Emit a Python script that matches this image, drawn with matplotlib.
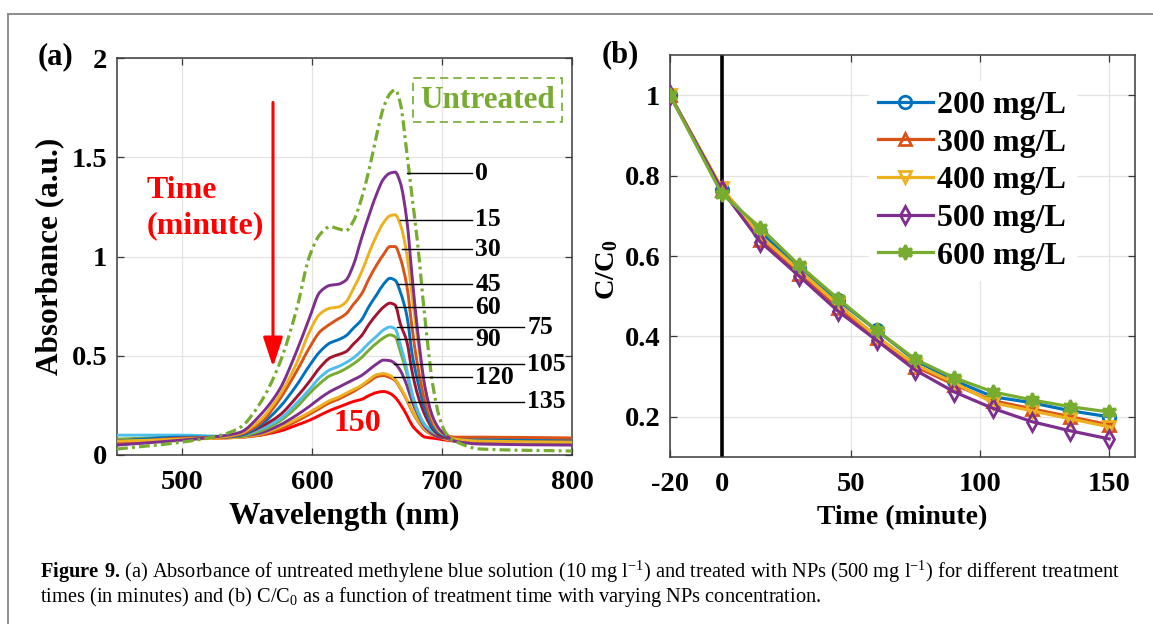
import numpy as np
import matplotlib
matplotlib.use('Agg')
import matplotlib.pyplot as plt
from matplotlib.lines import Line2D
from matplotlib.patches import Rectangle, PathPatch
from matplotlib.path import Path

plt.rcParams['font.family'] = 'Liberation Serif'
plt.rcParams['font.weight'] = 'bold'
plt.rcParams['mathtext.fontset'] = 'custom'
plt.rcParams['mathtext.rm'] = 'Liberation Serif:weight=normal'
plt.rcParams['mathtext.bf'] = 'Liberation Serif:weight=bold'
plt.rcParams['mathtext.default'] = 'rm'
plt.rcParams['axes.unicode_minus'] = False

# ---- (a) absorbance spectra ----
wavelength = [450, 500, 530, 545, 560, 575, 588, 598, 606, 614, 620, 626, 632, 638, 644,
              650, 655, 660, 664, 668, 673, 677, 681, 687, 693, 698, 703, 710, 730, 800]

abs_untreated = [0.03, 0.065, 0.10, 0.14, 0.26, 0.46, 0.73, 1.00, 1.11, 1.15, 1.14, 1.13, 1.18, 1.29, 1.44,
                 1.62, 1.75, 1.82, 1.84, 1.77, 1.52, 1.30, 1.08, 0.68, 0.35, 0.19, 0.11, 0.07, 0.03, 0.02]
abs_0 = [0.05, 0.075, 0.095, 0.115, 0.20, 0.33, 0.52, 0.69, 0.82, 0.855, 0.86, 0.88, 0.96, 1.09, 1.21,
         1.32, 1.39, 1.42, 1.425, 1.37, 1.18, 0.90, 0.64, 0.34, 0.19, 0.13, 0.10, 0.07, 0.055, 0.05]
abs_15 = [0.07, 0.08, 0.09, 0.11, 0.175, 0.30, 0.46, 0.62, 0.71, 0.74, 0.745, 0.77, 0.84, 0.92, 1.02,
          1.11, 1.17, 1.205, 1.21, 1.16, 1.01, 0.80, 0.60, 0.33, 0.18, 0.12, 0.10, 0.08, 0.07, 0.065]
abs_30 = [0.06, 0.085, 0.09, 0.105, 0.16, 0.28, 0.42, 0.54, 0.62, 0.66, 0.685, 0.71, 0.76, 0.81, 0.89,
          0.96, 1.01, 1.05, 1.05, 0.99, 0.85, 0.64, 0.46, 0.27, 0.16, 0.12, 0.10, 0.09, 0.09, 0.085]
abs_45 = [0.07, 0.09, 0.09, 0.10, 0.15, 0.24, 0.35, 0.45, 0.52, 0.565, 0.58, 0.60, 0.64, 0.68, 0.75,
          0.81, 0.86, 0.89, 0.88, 0.82, 0.70, 0.51, 0.38, 0.23, 0.14, 0.11, 0.095, 0.085, 0.08, 0.08]
abs_60 = [0.07, 0.085, 0.09, 0.10, 0.14, 0.20, 0.29, 0.37, 0.44, 0.49, 0.505, 0.52, 0.56, 0.60, 0.66,
          0.71, 0.745, 0.765, 0.755, 0.66, 0.57, 0.42, 0.31, 0.20, 0.13, 0.10, 0.09, 0.08, 0.07, 0.07]
abs_75 = [0.10, 0.10, 0.095, 0.10, 0.13, 0.18, 0.26, 0.33, 0.39, 0.43, 0.445, 0.465, 0.49, 0.525, 0.565,
          0.60, 0.63, 0.645, 0.635, 0.555, 0.43, 0.31, 0.23, 0.15, 0.12, 0.10, 0.09, 0.08, 0.075, 0.075]
abs_90 = [0.08, 0.09, 0.09, 0.095, 0.12, 0.17, 0.24, 0.31, 0.36, 0.40, 0.415, 0.435, 0.46, 0.49, 0.53,
          0.565, 0.59, 0.605, 0.595, 0.52, 0.41, 0.30, 0.22, 0.15, 0.115, 0.10, 0.09, 0.07, 0.06, 0.06]
abs_105 = [0.07, 0.085, 0.09, 0.095, 0.11, 0.15, 0.20, 0.245, 0.285, 0.32, 0.34, 0.36, 0.38, 0.40, 0.43,
           0.46, 0.478, 0.475, 0.46, 0.425, 0.35, 0.27, 0.21, 0.14, 0.105, 0.09, 0.085, 0.07, 0.06, 0.06]
abs_120 = [0.065, 0.08, 0.085, 0.09, 0.105, 0.14, 0.18, 0.215, 0.245, 0.275, 0.29, 0.31, 0.33, 0.35, 0.38,
           0.405, 0.41, 0.40, 0.38, 0.34, 0.28, 0.225, 0.18, 0.13, 0.10, 0.09, 0.08, 0.07, 0.06, 0.055]
abs_135 = [0.075, 0.09, 0.09, 0.09, 0.10, 0.13, 0.17, 0.205, 0.235, 0.265, 0.28, 0.30, 0.32, 0.345, 0.37,
           0.395, 0.40, 0.39, 0.375, 0.335, 0.275, 0.22, 0.175, 0.125, 0.10, 0.09, 0.085, 0.085, 0.085, 0.085]
abs_150 = [0.06, 0.08, 0.085, 0.09, 0.10, 0.12, 0.15, 0.175, 0.20, 0.225, 0.24, 0.255, 0.27, 0.28, 0.30,
           0.315, 0.32, 0.31, 0.29, 0.255, 0.20, 0.15, 0.12, 0.09, 0.085, 0.08, 0.075, 0.07, 0.065, 0.065]

treat_times = [0, 15, 30, 45, 60, 75, 90, 105, 120, 135, 150]
treated = [abs_0, abs_15, abs_30, abs_45, abs_60, abs_75, abs_90, abs_105, abs_120, abs_135, abs_150]

ticks_a_x = [500, 600, 700, 800]
ticks_a_y = [0, 0.5, 1, 1.5, 2]
labels_a_y = ['0', '0.5', '1', '1.5', '2']

# ---- (b) normalised concentration ----
time_b = [-20, 0, 15, 30, 45, 60, 75, 90, 105, 120, 135, 150]
conc_200 = [1.0, 0.765, 0.66, 0.57, 0.49, 0.415, 0.34, 0.29, 0.25, 0.235, 0.215, 0.20]
conc_300 = [1.0, 0.765, 0.64, 0.555, 0.47, 0.395, 0.325, 0.28, 0.24, 0.22, 0.20, 0.18]
conc_400 = [1.0, 0.77, 0.65, 0.565, 0.48, 0.40, 0.33, 0.285, 0.235, 0.215, 0.195, 0.175]
conc_500 = [1.0, 0.765, 0.635, 0.55, 0.463, 0.39, 0.316, 0.262, 0.221, 0.188, 0.165, 0.145]
conc_600 = [1.0, 0.755, 0.67, 0.577, 0.494, 0.415, 0.343, 0.297, 0.262, 0.242, 0.225, 0.212]
conc_names = ['200 mg/L', '300 mg/L', '400 mg/L', '500 mg/L', '600 mg/L']

ticks_b_x = [-20, 0, 50, 100, 150]
labels_b_x = ['-20', '0', '50', '100', '150']
ticks_b_y = [0.2, 0.4, 0.6, 0.8, 1]
labels_b_y = ['0.2', '0.4', '0.6', '0.8', '1']

# matlab-like colour order
c_blue, c_orange, c_yellow = '#0072BD', '#D95319', '#EDB120'
c_purple, c_green, c_lblue, c_maroon = '#7E2F8E', '#77AC30', '#4DBEEE', '#A2142F'
spec_colors = [c_purple, c_yellow, c_orange, c_blue, c_maroon, c_lblue, c_green,
               c_purple, c_yellow, c_orange, '#FF0000']


def smooth_path(x, y):
    """Monotone cubic (pchip) through the points, as bezier segments."""
    x = np.asarray(x, float)
    y = np.asarray(y, float)
    h = np.diff(x)
    d = np.diff(y) / h
    m = np.zeros_like(y)
    for k in range(1, len(x) - 1):
        if d[k - 1] * d[k] > 0:
            w1 = 2 * h[k] + h[k - 1]
            w2 = h[k] + 2 * h[k - 1]
            m[k] = (w1 + w2) / (w1 / d[k - 1] + w2 / d[k])
    m[0], m[-1] = d[0], d[-1]
    verts = [(x[0], y[0])]
    codes = [Path.MOVETO]
    for k in range(len(h)):
        verts += [(x[k] + h[k] / 3, y[k] + m[k] * h[k] / 3),
                  (x[k + 1] - h[k] / 3, y[k + 1] - m[k + 1] * h[k] / 3),
                  (x[k + 1], y[k + 1])]
        codes += [Path.CURVE4] * 3
    return Path(verts, codes)


W, H = 1153, 624
fig = plt.figure(figsize=(W / 100, H / 100), dpi=100)
ax1 = fig.add_axes([117 / W, 1 - 455 / H, 455 / W, 397 / H])
ax2 = fig.add_axes([670 / W, 1 - 457 / H, 465 / W, 402 / H])


def style_axes(ax):
    ax.grid(True, color='#e3e3e3', lw=0.9)
    ax.set_axisbelow(True)
    for s in ax.spines.values():
        s.set_color('#3a3a3a')
        s.set_linewidth(1.1)
    ax.tick_params(direction='in', length=5, width=0.9, color='#3a3a3a',
                   top=True, right=True, labelsize=20.5)
    ax.tick_params(axis='x', pad=11)
    ax.tick_params(axis='y', pad=7)


# panel (a)
for t, vals, col in reversed(list(zip(treat_times, treated, spec_colors))):
    ax1.add_patch(PathPatch(smooth_path(wavelength, vals), facecolor='none', edgecolor=col,
                            lw=2.1, joinstyle='round', zorder=3))
ax1.add_patch(PathPatch(smooth_path(wavelength, abs_untreated), facecolor='none', edgecolor=c_green,
                        lw=2.3, linestyle=(0, (3.4, 1.3, 0.9, 1.3)), zorder=4))

ax1.set_xlim(450, 800)
ax1.set_ylim(0, 2)
ax1.set_xticks(ticks_a_x)
ax1.set_yticks(ticks_a_y)
ax1.set_yticklabels(labels_a_y)
style_axes(ax1)
ax1.set_xlabel('Wavelength (nm)', fontsize=22.5, fontweight='bold')
ax1.set_ylabel('Absorbance (a.u.)', fontsize=22.5, fontweight='bold')
ax1.xaxis.set_label_coords(0.5, -0.156)
ax1.xaxis.label.set_va('center')
ax1.yaxis.set_label_coords(-0.147, 0.5)
ax1.yaxis.label.set_va('center')

# leader lines: (label, start, y, long)
leaders = [('0', 673, 1.419, False), ('15', 668, 1.184, False), ('30', 669, 1.036, False),
           ('45', 666, 0.86, False), ('60', 664, 0.744, False), ('75', 665, 0.643, True),
           ('90', 665, 0.583, False), ('105', 663, 0.458, True), ('120', 663, 0.391, False),
           ('135', 674, 0.269, True)]
for lab, x0, y, long in leaders:
    x1 = 763 if long else 723
    ax1.plot([x0, x1], [y, y], color='black', lw=1.0, zorder=5, clip_on=False)
    ax1.text(x1 + 2.5, y, lab, fontsize=18.5, ha='left', va='center', zorder=6)

ax1.text(635, 0.16, '150', color='#FF0000', fontsize=23, ha='center', va='center')
ax1.text(473, 1.245, 'Time\n(minute)', color='#FF0000', fontsize=23, ha='left', va='center',
         linespacing=1.27)
ax1.annotate('', xy=(570, 0.43), xytext=(570, 1.79),
             arrowprops=dict(arrowstyle='-|>,head_length=0.9,head_width=0.3',
                             color='#FF0000', lw=2.2, mutation_scale=20))
ax1.add_patch(Rectangle((678, 1.678), 114, 0.221, fill=False, edgecolor=c_green,
                        lw=1.2, linestyle=(0, (5, 3)), zorder=5))
ax1.text(735, 1.785, 'Untreated', color=c_green, fontsize=22.5, ha='center', va='center')

# panel (b)
markers = ['o', '^', 'v', 'd', (6, 1, 0)]
series = [conc_200, conc_300, conc_400, conc_500, conc_600]
cols_b = [c_blue, c_orange, c_yellow, c_purple, c_green]
for vals, name, col, mk in zip(series, conc_names, cols_b, markers):
    filled = mk == (6, 1, 0)
    ax2.plot(time_b, vals, color=col, lw=2.3, marker=mk, ms=10.5 if filled else 9,
             mfc=col if filled else 'none', mew=2.0, label=name, zorder=3)
ax2.axvline(0, color='black', lw=2.6, zorder=2)

ax2.set_xlim(-20, 160)
ax2.set_ylim(0.1, 1.1)
ax2.set_xticks(ticks_b_x)
ax2.set_xticklabels(labels_b_x)
ax2.set_yticks(ticks_b_y)
ax2.set_yticklabels(labels_b_y)
style_axes(ax2)
ax2.set_xlabel('Time (minute)', fontsize=20, fontweight='bold')
ax2.set_ylabel(r'$\mathbf{C/C_0}$', fontsize=20.5)
ax2.xaxis.set_label_coords(0.5, -0.152)
ax2.xaxis.label.set_va('center')
ax2.yaxis.set_label_coords(-0.136, 0.465)
ax2.yaxis.label.set_va('center')

leg = ax2.legend(loc='upper left', bbox_to_anchor=(0.393, 0.975), fontsize=23,
                 frameon=True, fancybox=False, edgecolor='white', framealpha=1,
                 handlelength=1.7, handletextpad=0.15, labelspacing=0.26, borderpad=0.3)

# panel tags
fig.text(55 / W, 1 - 57 / H, '(a)', fontsize=22, ha='center', va='center')
fig.text(620 / W, 1 - 55 / H, '(b)', fontsize=22, ha='center', va='center')

# page frame
frame = dict(color='#8c8c8c', lw=1.4, transform=fig.transFigure)
fig.add_artist(Line2D([8 / W, 1], [1 - 14 / H, 1 - 14 / H], **frame))
fig.add_artist(Line2D([8 / W, 8 / W], [0, 1 - 14 / H], **frame))

# caption
cap1 = (r'$\mathbf{Figure\ 9.}$(a) Absorbance of untreated methylene blue solution (10 mg l$^{-1}$) '
        r'and treated with NPs (500 mg l$^{-1}$) for different treatment')
cap2 = r'times (in minutes) and (b) C/C$_0$ as a function of treatment time with varying NPs concentration.'
fig.text(40 / W, 1 - 572 / H, cap1, fontsize=14.7, fontweight='normal', ha='left', va='center')
fig.text(40 / W, 1 - 597 / H, cap2, fontsize=14.7, fontweight='normal', ha='left', va='center')

fig.savefig('out.png', dpi=100)
